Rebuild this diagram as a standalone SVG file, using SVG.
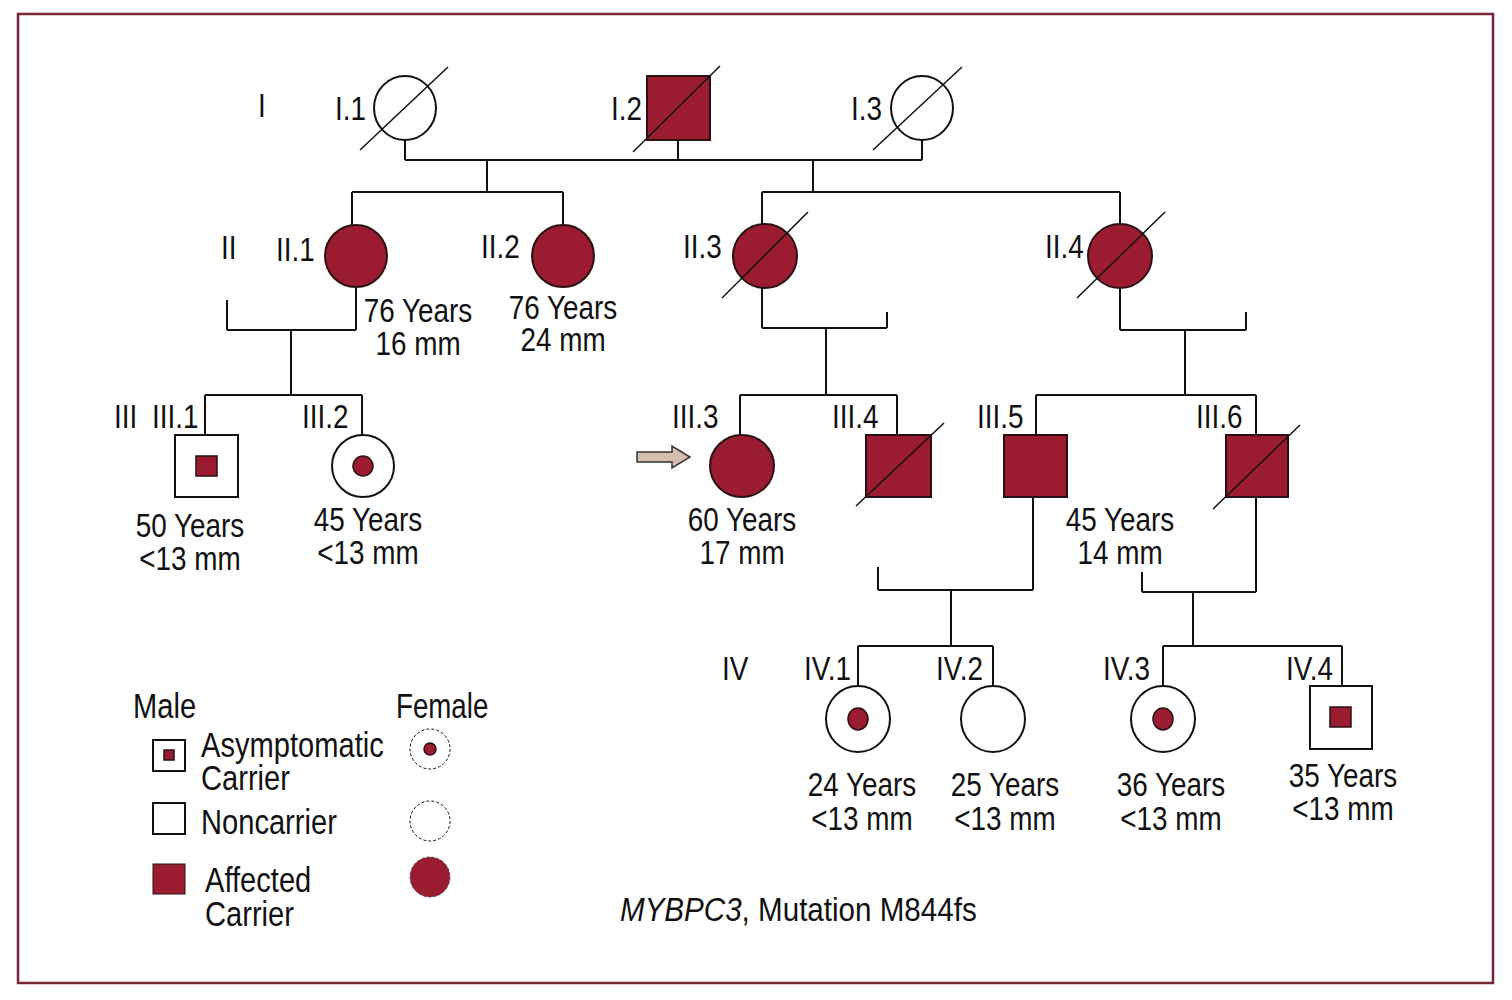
<svg xmlns="http://www.w3.org/2000/svg" width="1512" height="1000" viewBox="0 0 1512 1000">
<style>
text{font-family:"Liberation Sans",Arial,sans-serif;font-size:34px;fill:#111}
.m{text-anchor:middle}
.lg{font-size:35.5px}
.ln{stroke:#111;stroke-width:2;fill:none}
.aff{fill:#9b1c31;stroke:#2a1015;stroke-width:2}
.wh{fill:#fff;stroke:#111;stroke-width:2}
.dot{fill:#9b1c31;stroke:#2a1015;stroke-width:1.5}
.dec{stroke:#111;stroke-width:1.5}
.dash{fill:#fff;stroke:#111;stroke-width:1;stroke-dasharray:3 2}
</style>
<rect x="0" y="0" width="1512" height="1000" fill="#fff"/>
<rect x="18" y="14" width="1475" height="969" fill="none" stroke="#7a2535" stroke-width="2.5"/>

<g id="connectors" class="ln">
<path d="M405 140V160M678 140V160M922 140V160M405 160H922"/>
<path d="M487 160V192M352 192H563M352 192V225M563 192V225"/>
<path d="M813 160V192M762 192H1120M762 192V225M1120 192V225"/>
<path d="M356 288V330M227 330H356M227 330V300M291 330V395M205 395H362M205 395V435M362 395V435"/>
<path d="M762 288V328M762 328H887M887 328V312M826 328V395M740 395H897M740 395V435M897 395V435"/>
<path d="M1120 288V330M1120 330H1246M1246 330V312M1185 330V395M1036 395H1256M1036 395V435M1256 395V435"/>
<path d="M1033 497V590M878 590H1033M878 590V567M951 590V646M858 646H993M858 646V686M993 646V686"/>
<path d="M1256 497V592M1142 592H1256M1142 592V572M1193 592V646M1163 646H1342M1163 646V686M1342 646V686"/>
</g>

<g id="gen-labels">
<text transform="translate(258,117) scale(0.82,1)">I</text>
<text transform="translate(221,259) scale(0.82,1)">II</text>
<text transform="translate(114,428) scale(0.82,1)">III</text>
<text transform="translate(722,680) scale(0.82,1)">IV</text>
</g>

<g id="I1"><ellipse class="wh" cx="405" cy="108" rx="31" ry="32"/><line class="dec" x1="360" y1="150" x2="448" y2="67"/><text transform="translate(335,120) scale(0.82,1)">I.1</text></g>
<g id="I2"><rect class="aff" x="647" y="76" width="63" height="64"/><line class="dec" x1="633" y1="152" x2="720" y2="66"/><text transform="translate(611,120) scale(0.82,1)">I.2</text></g>
<g id="I3"><ellipse class="wh" cx="922" cy="108" rx="31" ry="32"/><line class="dec" x1="873" y1="150" x2="962" y2="67"/><text transform="translate(851,120) scale(0.82,1)">I.3</text></g>

<g id="II1"><circle class="aff" cx="356" cy="256" r="31"/><text transform="translate(276,261) scale(0.82,1)">II.1</text><text class="m" transform="translate(418,322) scale(0.82,1)">76 Years</text><text class="m" transform="translate(418,355) scale(0.82,1)">16 mm</text></g>
<g id="II2"><circle class="aff" cx="563" cy="256" r="31"/><text transform="translate(481,258) scale(0.82,1)">II.2</text><text class="m" transform="translate(563,319) scale(0.82,1)">76 Years</text><text class="m" transform="translate(563,351) scale(0.82,1)">24 mm</text></g>
<g id="II3"><ellipse class="aff" cx="765" cy="256" rx="32" ry="32"/><line class="dec" x1="722" y1="298" x2="808" y2="212"/><text transform="translate(683,258) scale(0.82,1)">II.3</text></g>
<g id="II4"><ellipse class="aff" cx="1120" cy="256" rx="32" ry="32"/><line class="dec" x1="1077" y1="298" x2="1165" y2="212"/><text transform="translate(1045,258) scale(0.82,1)">II.4</text></g>

<g id="III1"><rect class="wh" x="175" y="435" width="63" height="62"/><rect class="dot" x="196" y="456" width="21" height="20"/><text transform="translate(152,428) scale(0.82,1)">III.1</text><text class="m" transform="translate(190,537) scale(0.82,1)">50 Years</text><text class="m" transform="translate(190,570) scale(0.82,1)">&lt;13 mm</text></g>
<g id="III2"><circle class="wh" cx="363" cy="466" r="31"/><circle class="dot" cx="363" cy="466" r="10"/><text transform="translate(302,428) scale(0.82,1)">III.2</text><text class="m" transform="translate(368,531) scale(0.82,1)">45 Years</text><text class="m" transform="translate(368,564) scale(0.82,1)">&lt;13 mm</text></g>
<g id="proband-arrow"><path d="M637 452H672V446L690 457L672 468V462H637Z" fill="#d6bdb0" stroke="#333" stroke-width="1.5"/></g>
<g id="III3"><ellipse class="aff" cx="742" cy="466" rx="32" ry="31"/><text transform="translate(672,428) scale(0.82,1)">III.3</text><text class="m" transform="translate(742,531) scale(0.82,1)">60 Years</text><text class="m" transform="translate(742,564) scale(0.82,1)">17 mm</text></g>
<g id="III4"><rect class="aff" x="866" y="435" width="65" height="62"/><line class="dec" x1="856" y1="506" x2="944" y2="423"/><text transform="translate(832,428) scale(0.82,1)">III.4</text></g>
<g id="III5"><rect class="aff" x="1004" y="435" width="63" height="62"/><text transform="translate(977,428) scale(0.82,1)">III.5</text><text class="m" transform="translate(1120,531) scale(0.82,1)">45 Years</text><text class="m" transform="translate(1120,564) scale(0.82,1)">14 mm</text></g>
<g id="III6"><rect class="aff" x="1226" y="435" width="62" height="62"/><line class="dec" x1="1213" y1="509" x2="1300" y2="425"/><text transform="translate(1196,428) scale(0.82,1)">III.6</text></g>

<g id="IV1"><ellipse class="wh" cx="858" cy="719" rx="32" ry="33"/><ellipse class="dot" cx="858" cy="719" rx="10" ry="11"/><text transform="translate(804,680) scale(0.82,1)">IV.1</text><text class="m" transform="translate(862,796) scale(0.82,1)">24 Years</text><text class="m" transform="translate(862,830) scale(0.82,1)">&lt;13 mm</text></g>
<g id="IV2"><ellipse class="wh" cx="993" cy="719" rx="32" ry="33"/><text transform="translate(936,680) scale(0.82,1)">IV.2</text><text class="m" transform="translate(1005,796) scale(0.82,1)">25 Years</text><text class="m" transform="translate(1005,830) scale(0.82,1)">&lt;13 mm</text></g>
<g id="IV3"><ellipse class="wh" cx="1163" cy="719" rx="32" ry="33"/><ellipse class="dot" cx="1163" cy="719" rx="10" ry="11"/><text transform="translate(1103,680) scale(0.82,1)">IV.3</text><text class="m" transform="translate(1171,796) scale(0.82,1)">36 Years</text><text class="m" transform="translate(1171,830) scale(0.82,1)">&lt;13 mm</text></g>
<g id="IV4"><rect class="wh" x="1310" y="686" width="62" height="63"/><rect class="dot" x="1330" y="707" width="21" height="20"/><text transform="translate(1286,680) scale(0.82,1)">IV.4</text><text class="m" transform="translate(1343,787) scale(0.82,1)">35 Years</text><text class="m" transform="translate(1343,820) scale(0.82,1)">&lt;13 mm</text></g>

<g id="legend">
<text class="lg" transform="translate(133,718) scale(0.82,1)">Male</text>
<text class="lg" transform="translate(396,718) scale(0.78,1)">Female</text>
<rect class="wh" x="153" y="740" width="32" height="31" stroke-width="1.5"/><rect class="dot" x="164" y="750" width="10" height="10" stroke-width="1"/>
<text class="lg" transform="translate(201,757) scale(0.82,1)">Asymptomatic</text><text class="lg" transform="translate(201,790) scale(0.82,1)">Carrier</text>
<circle class="dash" cx="430" cy="749" r="20"/><circle class="dot" cx="430" cy="749" r="6" stroke-width="1"/>
<rect class="wh" x="153" y="803" width="32" height="31" stroke-width="1.5"/>
<text class="lg" transform="translate(201,834) scale(0.82,1)">Noncarrier</text>
<circle class="dash" cx="430" cy="821" r="20"/>
<rect x="153" y="864" width="32" height="30" fill="#9b1c31" stroke="#2a1015" stroke-width="1"/>
<text class="lg" transform="translate(205,892) scale(0.82,1)">Affected</text><text class="lg" transform="translate(205,926) scale(0.82,1)">Carrier</text>
<circle cx="430" cy="877" r="20" fill="#9b1c31" stroke="#555" stroke-width="1" stroke-dasharray="3 2"/>
</g>

<g id="caption"><text font-size="36" transform="translate(620,921) scale(0.87,1)"><tspan font-style="italic">MYBPC3</tspan>, Mutation M844fs</text></g>
</svg>
